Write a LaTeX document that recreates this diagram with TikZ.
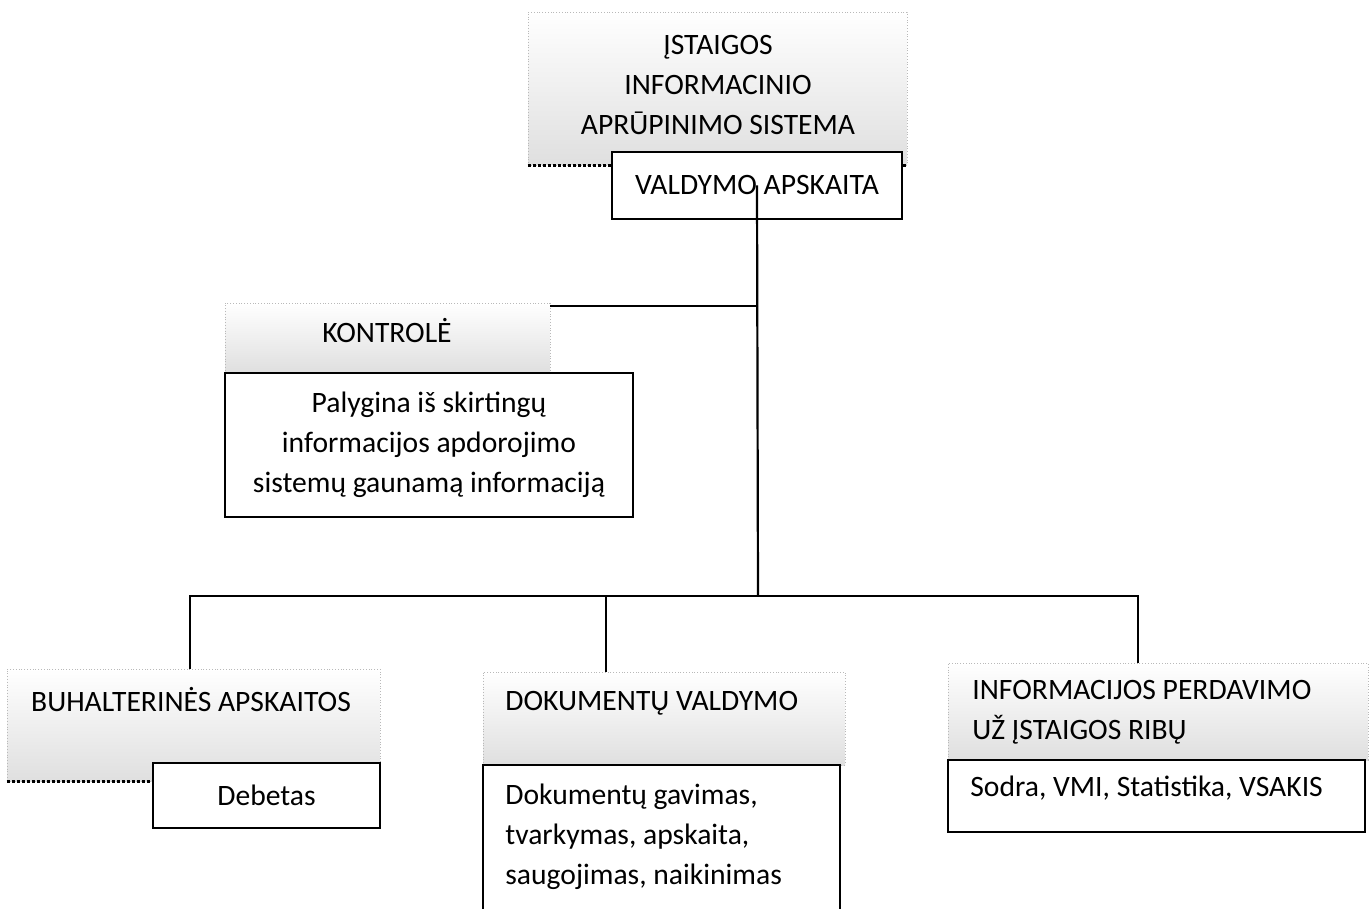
\documentclass[tikz,border=0pt]{standalone}
\usepackage{fontspec}
\setmainfont{Carlito}
\tikzset{
  head/.style={draw=gray!55, densely dotted, top color=white, bottom color=gray!25, inner sep=0pt},
  hedge/.style={black, densely dotted, line width=1.5pt},
  body/.style={draw=black, line width=1.1pt, fill=white, inner sep=0pt, font=\fontsize{14.8}{20}\selectfont},
  txt/.style={inner sep=0pt, font=\fontsize{14.8}{20}\selectfont},
  conn/.style={draw=black, line width=1.1pt}
}
\begin{document}
\begin{tikzpicture}[x=0.5pt,y=-0.5pt]
	\useasboundingbox (0,0) rectangle (1372,909);
	% antraštės (pilkos)
	\node[head, minimum width=189.5pt, minimum height=76.5pt] (sysh) at (717.5,88.5) {};
	\node[head, minimum width=162.5pt, minimum height=35pt] (konh) at (387.5,338) {};
	\node[head, minimum width=186.5pt, minimum height=56pt] (buhh) at (193.5,725) {};
	\node[head, minimum width=181pt, minimum height=46.5pt] (dokh) at (664,718.5) {};
	\node[head, minimum width=210pt, minimum height=48.5pt] (infh) at (1158,711.5) {};
	\draw[hedge] (sysh.south west) -- (sysh.south east);
	\draw[hedge] (buhh.south west) -- (buhh.south east);
	% turinio langeliai
	\node[body, minimum width=145pt, minimum height=33.5pt] (valdb) at (757,185.5) {VALDYMO APSKAITA};
	\node[body, minimum width=204pt, minimum height=72pt, align=center] (konb) at (429,445)
		{Palygina iš skirtingų\\informacijos apdorojimo\\sistemų gaunamą informaciją};
	\node[body, minimum width=113.5pt, minimum height=32.5pt] (debb) at (266.5,795.5) {Debetas};
	\node[body, minimum width=178.5pt, minimum height=75pt] (dokb) at (661.5,840) {};
	\node[body, minimum width=208.5pt, minimum height=36pt] (infb) at (1156.5,796) {};
	% jungtys
	\coordinate (j1) at (758,306);
	\coordinate (j2) at (758,596);
	\coordinate (b1) at (190,596);
	\coordinate (b2) at (606,596);
	\coordinate (b3) at (1138,596);
	\draw[conn] (valdb.center) -- (j2);
	\draw[conn] (j1) -- (konh.east |- j1);
	\draw[conn] (b1 |- buhh.north) -- (b1) -- (b3) -- (b3 |- infh.north);
	\draw[conn] (b2) -- (b2 |- dokh.north);
	% tekstai
	\node[txt, align=center] (syst) at (718,85) {ĮSTAIGOS\\INFORMACINIO\\APRŪPINIMO SISTEMA};
	\node[txt] (kont) at (387,331) {KONTROLĖ};
	\node[txt] (buht) at (191,700) {BUHALTERINĖS APSKAITOS};
	\node[txt, anchor=west] (dokt) at (505,703) {DOKUMENTŲ VALDYMO};
	\node[txt, anchor=west, align=left] (inft) at (972,712) {INFORMACIJOS PERDAVIMO\\UŽ ĮSTAIGOS RIBŲ};
	\node[txt, anchor=west, align=left] (dokbt) at (505,837) {Dokumentų gavimas,\\tvarkymas, apskaita,\\saugojimas, naikinimas};
	\node[txt, anchor=west] (infbt) at (970,788) {Sodra, VMI, Statistika, VSAKIS};
\end{tikzpicture}
\end{document}
